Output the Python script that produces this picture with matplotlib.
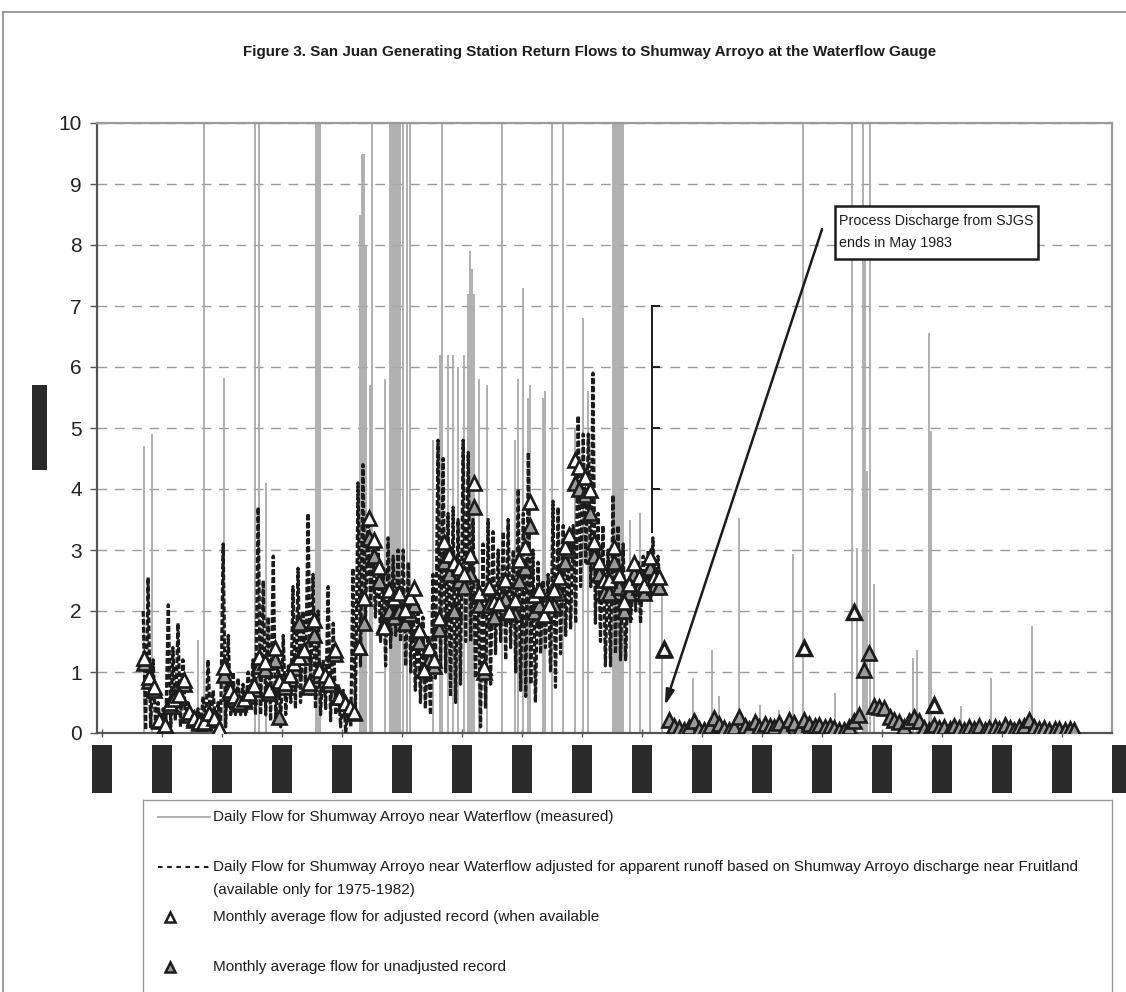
import numpy as np
import pandas as pd
import matplotlib
matplotlib.use('Agg')
import matplotlib.pyplot as plt
import matplotlib.dates as mdates
from matplotlib.patches import Rectangle
from matplotlib.lines import Line2D
from matplotlib import markers

plt.rcParams['font.family'] = ['Liberation Sans', 'DejaVu Sans']

W, H = 1126, 992

# --- data (cfs) ---
# monthly records start Sep 1974
rec_start = '1974-09-01'

# adjusted record, Sep 1974 - Apr 1983: monthly mean, daily max, daily min
adj_avg = [1.23, 0.92, 0.75, 0.21, 0.13, 0.49, 0.55, 0.62, 0.87, 0.35,
           0.24, 0.18, 0.18, 0.32, 0.25, 0.08, 1.08, 0.71, 0.60, 0.51,
           0.55, 0.66, 0.79, 1.25, 1.16, 0.70, 1.39, 0.85, 0.82, 0.95,
           1.15, 1.25, 1.36, 0.82, 1.85, 1.03, 0.95, 0.87, 1.36, 0.59,
           0.50, 0.43, 0.35, 1.41, 2.21, 3.52, 3.16, 2.72, 1.74, 2.34,
           2.21, 2.30, 2.02, 2.23, 2.38, 1.69, 1.03, 1.39, 1.20, 1.89,
           3.13, 2.92, 2.79, 2.70, 2.60, 2.92, 4.10, 2.30, 1.08, 2.39,
           2.15, 2.13, 2.51, 1.98, 2.18, 2.84, 3.05, 3.79, 2.26, 2.34,
           1.93, 2.10, 2.34, 2.56, 3.05, 3.25, 4.48, 4.36, 4.20, 3.98,
           3.13, 2.80, 2.51, 2.51, 3.05, 2.59, 2.15, 2.45, 2.79, 2.56,
           2.43, 2.89, 2.56, 2.56]
adj_hi = [2.0, 2.55, 1.2, 0.5, 0.4, 2.1, 1.4, 1.8, 1.2, 0.5,
          0.35, 0.4, 0.6, 1.2, 0.7, 0.5, 3.1, 1.6, 1.0, 0.9,
          0.8, 1.0, 1.2, 3.7, 2.5, 1.9, 2.9, 1.2, 1.6, 1.1,
          2.4, 2.7, 2.0, 3.6, 2.6, 2.0, 1.2, 2.4, 1.8, 0.8,
          0.7, 0.5, 2.7, 4.1, 4.4, 3.6, 3.0, 3.1, 2.7, 3.2,
          2.9, 3.0, 3.0, 2.8, 2.3, 2.1, 1.9, 1.6, 2.6, 4.8,
          4.5, 3.6, 3.7, 3.5, 4.8, 4.6, 3.5, 2.5, 3.1, 3.5,
          3.3, 3.0, 3.3, 3.5, 3.0, 4.0, 3.6, 4.6, 3.0, 2.8,
          2.5, 2.6, 3.8, 3.7, 3.4, 3.0, 3.4, 5.2, 4.9, 4.9,
          5.9, 3.6, 3.4, 3.0, 3.9, 3.4, 3.1, 2.5, 2.7, 2.8,
          2.9, 3.0, 3.2, 2.9]
adj_lo = [0.05, 0.1, 0.05, 0.0, 0.0, 0.1, 0.2, 0.1, 0.2, 0.1,
          0.1, 0.1, 0.1, 0.1, 0.1, 0.0, 0.1, 0.3, 0.3, 0.3,
          0.3, 0.4, 0.3, 0.3, 0.3, 0.2, 0.2, 0.1, 0.3, 0.5,
          0.4, 0.5, 0.7, 0.6, 0.4, 0.3, 0.4, 0.2, 0.3, 0.1,
          0.0, 0.1, 0.3, 1.1, 1.8, 2.1, 1.9, 1.5, 1.1, 1.4,
          1.6, 1.5, 1.1, 1.0, 0.7, 0.5, 0.4, 0.3, 0.9, 1.1,
          1.0, 0.6, 0.5, 0.8, 1.5, 1.5, 0.9, 0.1, 0.4, 0.8,
          1.3, 1.5, 1.2, 1.4, 1.0, 0.7, 0.6, 0.8, 0.5, 1.3,
          1.4, 1.0, 0.75, 1.3, 1.6, 1.7, 1.8, 2.4, 2.8, 2.4,
          1.8, 1.5, 1.1, 1.1, 1.3, 1.2, 1.2, 1.8, 2.0, 1.8,
          2.2, 2.2, 2.3, 2.3]

# unadjusted monthly mean, Sep 1974 - May 1983
unadj_early = [1.15, 0.85, 0.70, 0.20, 0.12, 0.45, 0.59, 0.59, 0.80, 0.30,
               0.22, 0.17, 0.17, 0.28, 0.22, 0.06, 0.95, 0.65, 0.55, 0.48,
               0.52, 0.60, 0.72, 1.10, 1.05, 0.65, 1.20, 0.26, 0.75, 0.88,
               1.07, 1.80, 1.25, 0.75, 1.60, 0.95, 0.87, 0.80, 1.30, 0.62,
               0.49, 0.40, 0.33, 1.41, 1.80, 3.20, 2.90, 2.50, 1.77, 2.00,
               1.90, 2.00, 1.80, 1.95, 2.10, 1.50, 1.03, 1.20, 1.10, 1.70,
               2.80, 2.60, 2.00, 2.50, 2.40, 2.60, 3.70, 2.10, 1.00, 2.10,
               1.90, 2.13, 2.20, 1.98, 1.95, 2.50, 2.70, 3.40, 1.98, 2.10,
               1.93, 2.10, 2.10, 2.30, 2.80, 3.00, 4.10, 4.00, 3.90, 3.60,
               2.90, 2.60, 2.30, 2.30, 2.80, 2.40, 2.00, 2.30, 2.60, 2.40,
               2.30, 2.70, 2.40, 2.40, 1.36]
# unadjusted monthly mean, Jun 1983 - Apr 1990
unadj_late = [0.21, 0.12, 0.08, 0.05, 0.10, 0.20, 0.07, 0.05, 0.12, 0.25,
              0.14, 0.08, 0.05, 0.10, 0.27, 0.12, 0.06, 0.18, 0.10, 0.15,
              0.12, 0.10, 0.16, 0.05, 0.21, 0.16, 0.05, 0.21, 0.15, 0.12,
              0.13, 0.10, 0.12, 0.08, 0.05, 0.05, 0.10, 0.20, 0.30, 1.03,
              1.31, 0.44, 0.42, 0.41, 0.26, 0.22, 0.18, 0.10, 0.20, 0.27,
              0.19, 0.08, 0.05, 0.13, 0.08, 0.10, 0.06, 0.12, 0.08, 0.05,
              0.10, 0.07, 0.12, 0.05, 0.08, 0.10, 0.06, 0.13, 0.08, 0.05,
              0.10, 0.12, 0.21, 0.10, 0.06, 0.08, 0.05, 0.07, 0.06, 0.05,
              0.06, 0.05]

# later months plotted with the open symbol
late_adj_months = ['1983-05-01', '1985-09-01', '1986-07-01', '1987-11-01']
late_adj_vals = [1.38, 1.39, 1.98, 0.46]

# measured daily peaks standing above the adjusted record
spike_dates = ['1974-09-12', '1974-11-01', '1975-08-08', '1975-09-13', '1976-01-13',
               '1976-07-19', '1976-08-13', '1976-09-25', '1977-07-25', '1977-08-07',
               '1977-08-19', '1978-04-20', '1978-05-02', '1978-05-14', '1978-05-26',
               '1978-06-19', '1978-07-01', '1978-09-19', '1978-10-19', '1978-11-01',
               '1978-11-13', '1978-11-25', '1978-12-07', '1978-12-19', '1979-01-07',
               '1979-01-31', '1979-02-18', '1979-07-07', '1979-08-19', '1979-09-01',
               '1979-10-07', '1979-11-06', '1979-12-07', '1980-01-13', '1980-02-06',
               '1980-02-18', '1980-03-01', '1980-03-13', '1980-04-13', '1980-06-01',
               '1980-09-01', '1980-11-19', '1980-12-07', '1981-01-07', '1981-02-06',
               '1981-02-18', '1981-05-08', '1981-05-20', '1981-07-01', '1981-09-07',
               '1981-11-19', '1982-01-07', '1982-02-06', '1982-07-07', '1982-07-19',
               '1982-08-01', '1982-08-13', '1982-08-25', '1982-09-07', '1982-10-19',
               '1982-12-19', '1983-02-18', '1983-05-01', '1983-11-06', '1984-03-01',
               '1984-04-13', '1984-08-13', '1984-12-19', '1985-04-13', '1985-07-07',
               '1985-09-07', '1986-03-19', '1986-07-01', '1986-08-01', '1986-09-07',
               '1986-09-19', '1986-10-01', '1986-10-19', '1986-11-13', '1987-07-07',
               '1987-08-01', '1987-10-13', '1987-10-25', '1988-04-25', '1988-10-25',
               '1989-07-01']
spike_peaks = [4.7, 4.9, 1.52, 12, 5.82,
               12, 12, 4.1, 12, 12,
               12, 8.5, 9.5, 9.5, 8.0,
               5.7, 12, 5.8, 12, 12,
               12, 12, 12, 12, 12,
               12, 12, 4.8, 6.2, 12,
               6.2, 6.2, 6.0, 6.2, 7.2,
               7.9, 7.6, 7.2, 5.8, 5.7,
               12, 4.8, 5.8, 7.3, 5.5,
               5.7, 5.5, 5.6, 12, 12,
               5.0, 6.8, 5.6, 12, 12,
               12, 12, 12, 12, 3.5,
               3.6, 3.0, 2.3, 0.9, 1.36,
               0.6, 3.52, 0.46, 0.37, 2.93,
               12, 0.66, 12, 3.03, 12,
               8.5, 4.3, 12, 2.44, 1.23,
               1.36, 6.55, 4.95, 0.44, 0.9,
               1.75]

bracket_date = '1983-03-05'
bracket_ticks = [7, 6, 5, 4]
bracket_bottom = 3.3

years = list(range(1974, 1992))

title = ('Figure 3. San Juan Generating Station Return Flows to Shumway Arroyo '
         'at the Waterflow Gauge')
legend_labels = [
    'Daily Flow for Shumway Arroyo near Waterflow (measured)',
    'Daily Flow for Shumway Arroyo near Waterflow adjusted for apparent runoff '
    'based on Shumway Arroyo discharge near Fruitland',
    '(available only for 1975-1982)',
    'Monthly average flow for adjusted record (when available',
    'Monthly average flow for unadjusted record',
]
note = ['Process Discharge from SJGS', 'ends in May 1983']


def fx(px):
    return px / W


def fy(py):
    return 1 - py / H


GRAY = '#a9a9a9'
INK = '#1c1c1c'

fig = plt.figure(figsize=(W / 100, H / 100), dpi=100)
ax = fig.add_axes([fx(97), fy(733), (1112 - 97) / W, (733 - 123) / H])

months = pd.date_range(rec_start, periods=len(adj_avg), freq='MS')
all_months = pd.date_range(rec_start, periods=len(unadj_early) + len(unadj_late), freq='MS')
mid = mdates.date2num(months + pd.Timedelta(days=15))
all_mid = mdates.date2num(all_months + pd.Timedelta(days=15))

# measured daily flow (gray)
ax.vlines(mdates.date2num(pd.to_datetime(spike_dates)), 0, spike_peaks,
          color=GRAY, lw=1.3, zorder=2)

# adjusted daily flow as a high/low trace per month (black dashed)
zx = np.empty(2 * len(months))
zy = np.empty(2 * len(months))
zx[0::2] = mdates.date2num(months + pd.Timedelta(days=7))
zx[1::2] = mdates.date2num(months + pd.Timedelta(days=22))
zy[0::2] = adj_hi
zy[1::2] = adj_lo
ax.plot(zx, zy, color=INK, lw=2.3, ls=(0, (1.8, 0.7)), zorder=3)

# monthly means
unadj = unadj_early + unadj_late
ax.plot(all_mid, unadj, ls='none', marker='^', ms=10.5, mfc='#9a9a9a', mec=INK,
        mew=1.9, zorder=4)
ax.plot(mid, adj_avg, ls='none', marker='^', ms=10.5, mfc='white', mec=INK,
        mew=1.9, zorder=5)
late_x = mdates.date2num(pd.to_datetime(late_adj_months) + pd.Timedelta(days=15))
ax.plot(late_x, late_adj_vals, ls='none', marker='^', ms=10.5, mfc='white',
        mec=INK, mew=2.4, zorder=5)

# odd bracket left of the drop
bx = mdates.date2num(pd.Timestamp(bracket_date))
ax.plot([bx, bx], [bracket_bottom, max(bracket_ticks)], color=INK, lw=1.4, zorder=6)
ax.plot([bx] * len(bracket_ticks), bracket_ticks, ls='none',
        marker=markers.TICKRIGHT, ms=6, mew=1.4, color=INK, zorder=6)

# arrow + note
ax.annotate('', xy=(mdates.date2num(pd.Timestamp('1983-05-20')), 0.45),
            xytext=(mdates.date2num(pd.Timestamp('1986-01-01')), 8.26),
            arrowprops=dict(arrowstyle='-|>,head_length=0.9,head_width=0.25',
                            color=INK, lw=1.8, shrinkA=0, shrinkB=0),
            zorder=7)
fig.add_artist(Rectangle((fx(835), fy(259)), (1038 - 835) / W, (259 - 206) / H,
                         transform=fig.transFigure, fc='white', ec=INK, lw=1.8))
fig.text(fx(839), fy(221), note[0], fontsize=10.3, va='center', color=INK)
fig.text(fx(839), fy(243), note[1], fontsize=10.3, va='center', color=INK)

# axes styling
ax.set_ylim(0, 10)
ax.set_xlim(mdates.date2num(pd.Timestamp('1973-12-01')),
            mdates.date2num(pd.Timestamp('1990-11-01')))
ax.set_yticks(range(0, 11))
ax.set_yticklabels([str(v) for v in range(0, 11)], fontsize=15, color='#222')
year_x = mdates.date2num(pd.to_datetime([f'{y}-01-01' for y in years]))
ax.set_xticks(year_x[year_x < ax.get_xlim()[1]])
ax.set_xticklabels([])
ax.tick_params(axis='x', direction='inout', length=6, color='#555', width=1)
ax.tick_params(axis='y', direction='out', length=5, color='#555', width=1, pad=6)
ax.yaxis.grid(True, color='#9a9a9a', lw=1, ls=(0, (7, 5.5)))
ax.set_axisbelow(True)
for side in ['left', 'bottom']:
    ax.spines[side].set_color('#555')
    ax.spines[side].set_linewidth(1.6)
for side in ['top', 'right']:
    ax.spines[side].set_color('#9a9a9a')
    ax.spines[side].set_linewidth(1.6)

# redacted year labels and axis title
bar_w = 20 / 60 * 365.25
for x in year_x:
    ax.add_patch(Rectangle((x - bar_w / 2, -0.098), bar_w, 0.078,
                           transform=ax.get_xaxis_transform(), clip_on=False,
                           fc='#2a2a2a', ec='none'))
fig.add_artist(Rectangle((fx(32), fy(470)), 15 / W, 85 / H,
                         transform=fig.transFigure, fc='#2a2a2a', ec='none'))

# title
fig.text(fx(590), fy(52), title, ha='center', va='center', fontsize=10.9,
         fontweight='bold', color=INK)

# chart-area border
fig.add_artist(Line2D([fx(3), fx(1126)], [fy(12), fy(12)], color='#8a8a8a', lw=1.2))
fig.add_artist(Line2D([fx(3), fx(3)], [fy(12), fy(992)], color='#8a8a8a', lw=1.2))

# legend box
fig.add_artist(Line2D([fx(143), fx(1112)], [fy(800), fy(800)], color='#9a9a9a', lw=1))
fig.add_artist(Line2D([fx(143), fx(143)], [fy(800), fy(992)], color='#9a9a9a', lw=1))
fig.add_artist(Line2D([fx(1112), fx(1112)], [fy(800), fy(992)], color='#9a9a9a', lw=1))
fig.add_artist(Line2D([fx(158), fx(210)], [fy(817), fy(817)], color=GRAY, lw=1.3))
fig.add_artist(Line2D([fx(158), fx(210)], [fy(867), fy(867)], color=INK, lw=1.5,
                      ls=(0, (2.2, 2.2))))
fig.add_artist(Line2D([fx(170)], [fy(917)], ls='none', marker='^', ms=7,
                      mfc='white', mec=INK, mew=1.8))
fig.add_artist(Line2D([fx(170)], [fy(967)], ls='none', marker='^', ms=7,
                      mfc='#9a9a9a', mec=INK, mew=1.8))
legend_y = [817, 867, 890, 917, 967]
for lab, py in zip(legend_labels, legend_y):
    fig.text(fx(213), fy(py), lab, fontsize=11, va='center', color=INK)

fig.savefig('out.png', dpi=100)
